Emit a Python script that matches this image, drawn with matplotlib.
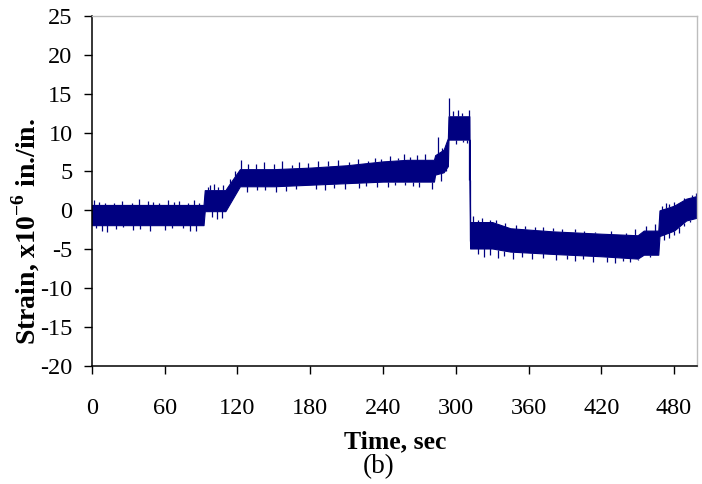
import matplotlib
matplotlib.use("Agg")
import matplotlib.pyplot as plt

plt.rcParams["font.family"] = ["Liberation Serif", "DejaVu Serif"]
plt.rcParams["mathtext.fontset"] = "custom"
plt.rcParams["mathtext.rm"] = "Liberation Serif"
plt.rcParams["mathtext.bf"] = "Liberation Serif:bold"
plt.rcParams["axes.unicode_minus"] = False

# core band of the strain record, sec / microstrain
band_time = [0, 92, 93, 110, 113, 122, 150, 180, 210, 240, 260, 282, 283, 290,
             293.5, 294, 311.2, 311.8, 330, 345, 380, 420, 450, 455, 467, 468,
             480, 490, 500]
band_low = [-1.9, -1.9, -0.1, -0.1, 0.7, 3.1, 3.1, 3.3, 3.5, 3.7, 3.7, 3.7, 4.6, 4.9,
            5.7, 9.1, 9.1, -4.9, -4.9, -5.3, -5.6, -5.9, -6.2, -5.7, -5.7, -3.3,
            -2.6, -1.3, -0.9]
band_high = [0.7, 0.7, 2.6, 2.6, 3.3, 5.3, 5.3, 5.5, 5.8, 6.3, 6.5, 6.5, 7.1, 7.8,
             9.3, 12.1, 12.1, -1.5, -1.5, -2.3, -2.7, -3.0, -3.2, -2.6, -2.6, 0.0,
             0.6, 1.5, 1.9]

# isolated noise spikes sticking out of the band
spike_up_time = [2, 6, 11, 18, 25, 33, 39, 46, 50, 55, 63, 68, 72, 79, 84, 88, 96,
                 97, 101, 104, 108, 114, 118, 123, 129, 135, 142, 150, 157, 165,
                 171, 178, 186, 195, 203, 212, 219, 228, 233, 238, 246, 252, 257,
                 262, 268, 275, 285, 289, 294.5, 298, 302, 305, 314, 318, 322, 328,
                 333, 341, 350, 357, 365, 372, 380, 388, 398, 406, 415, 428, 440,
                 448, 457, 464, 470, 473, 476, 480, 484, 488, 495, 498]
spike_up_value = [1.3, 1.1, 1.0, 0.9, 1.2, 1.0, 1.4, 1.2, 1.1, 1.0, 1.3, 1.1, 1.2,
                  1.0, 1.3, 1.0, 3.0, 3.2, 3.4, 3.0, 3.3, 4.0, 5.0, 6.5, 6.0, 5.9,
                  6.2, 6.0, 6.3, 5.8, 6.2, 6.1, 6.4, 6.3, 6.5, 6.2, 6.6, 6.4, 6.8,
                  6.6, 7.0, 6.8, 7.2, 6.9, 7.1, 7.2, 9.4, 8.0, 14.4, 12.8, 12.9, 12.5,
                  -0.7, -1.2, -1.0, -1.3, -1.2, -1.6, -1.9, -2.0, -2.2, -2.1, -2.3,
                  -2.4, -2.4, -2.6, -2.8, -2.7, -2.9, -2.4, -2.0, -1.7, 0.6, 0.9, 0.8,
                  1.1, 1.0, 1.6, 2.0, 2.2]
spike_down_time = [3, 8, 12, 20, 26, 34, 40, 48, 60, 66, 75, 81, 86, 99, 103, 107,
                   128, 136, 143, 152, 160, 168, 185, 192, 200, 209, 220, 226, 235,
                   244, 250, 258, 265, 270, 280, 288, 292, 300, 306, 309, 318, 323,
                   328, 335, 340, 347, 355, 363, 372, 383, 392, 398, 405, 413, 425,
                   431, 438, 444, 450, 460, 472, 476, 480, 484, 488, 493]
spike_down_value = [-2.3, -2.6, -2.8, -2.4, -2.2, -2.5, -2.4, -2.7, -2.5, -2.3, -2.3,
                    -2.6, -2.6, -0.8, -1.1, -1.0, 2.3, 2.6, 2.6, 2.4, 2.5, 2.7, 2.8,
                    2.6, 2.9, 2.7, 2.9, 3.1, 3.0, 3.0, 3.3, 3.2, 3.1, 3.0, 2.8, 3.8,
                    5.0, 8.6, 8.8, 8.7, -5.6, -6.0, -5.8, -6.1, -5.9, -6.2, -6.0, -6.3,
                    -6.1, -6.4, -6.3, -6.5, -6.2, -6.6, -6.6, -6.8, -6.5, -6.7, -6.4,
                    -6.0, -3.8, -3.6, -3.2, -2.9, -2.0, -1.5]

# the unloading drop at ~311 s
drop_time = [311.2, 311.8]
drop_top = [12.9, 3.9]
drop_bottom = [3.9, -4.0]

x_ticks = [0, 60, 120, 180, 240, 300, 360, 420, 480]
y_ticks = [-20, -15, -10, -5, 0, 5, 10, 15, 20, 25]

NAVY = "#000080"


def band_value(t, times, values):
    # value of the drawn band at a spike time, so spikes start on the band edge
    for i in range(len(times) - 1):
        if times[i] <= t <= times[i + 1]:
            span = times[i + 1] - times[i]
            frac = 0 if span == 0 else (t - times[i]) / span
            return values[i] + frac * (values[i + 1] - values[i])
    return values[-1]


def main() -> None:
    fig = plt.figure(figsize=(7.02, 4.84), dpi=100)
    ax = fig.add_axes([0.131, 0.244, 0.862, 0.723])

    ax.fill_between(band_time, band_low, band_high, color=NAVY, linewidth=0.8)
    up_base = [band_value(t, band_time, band_high) for t in spike_up_time]
    down_base = [band_value(t, band_time, band_low) for t in spike_down_time]
    ax.vlines(spike_up_time, up_base, spike_up_value, color=NAVY, linewidth=0.9)
    ax.vlines(spike_down_time, spike_down_value, down_base, color=NAVY, linewidth=0.9)
    ax.vlines(drop_time, drop_bottom, drop_top, color=NAVY, linewidth=0.9)

    ax.set_xlim(0, 499)
    ax.set_ylim(-20, 25)
    ax.set_xticks(x_ticks)
    ax.set_yticks(y_ticks)
    ax.tick_params(axis="both", direction="out", length=6, width=1.0,
                   labelsize=17.5, pad=8, color="black")
    ax.tick_params(axis="x", pad=17)

    for side in ("left", "bottom"):
        ax.spines[side].set_color("black")
        ax.spines[side].set_linewidth(1.1)
    for side in ("top", "right"):
        ax.spines[side].set_color("#bdbdbd")
        ax.spines[side].set_linewidth(1.0)

    ax.set_ylabel(r"Strain, x10$^{\mathbf{-6}}$ in./in.", fontsize=20,
                  fontweight="bold")
    ax.yaxis.set_label_coords(-0.083, 0.385)
    ax.set_xlabel("Time, sec", fontsize=18.5, fontweight="bold")
    ax.xaxis.set_label_coords(0.502, -0.185)
    fig.text(0.54, 0.036, "(b)", fontsize=19.5, ha="center", va="center")

    fig.savefig("out.png", dpi=100)
    plt.close(fig)


if __name__ == "__main__":
    main()
